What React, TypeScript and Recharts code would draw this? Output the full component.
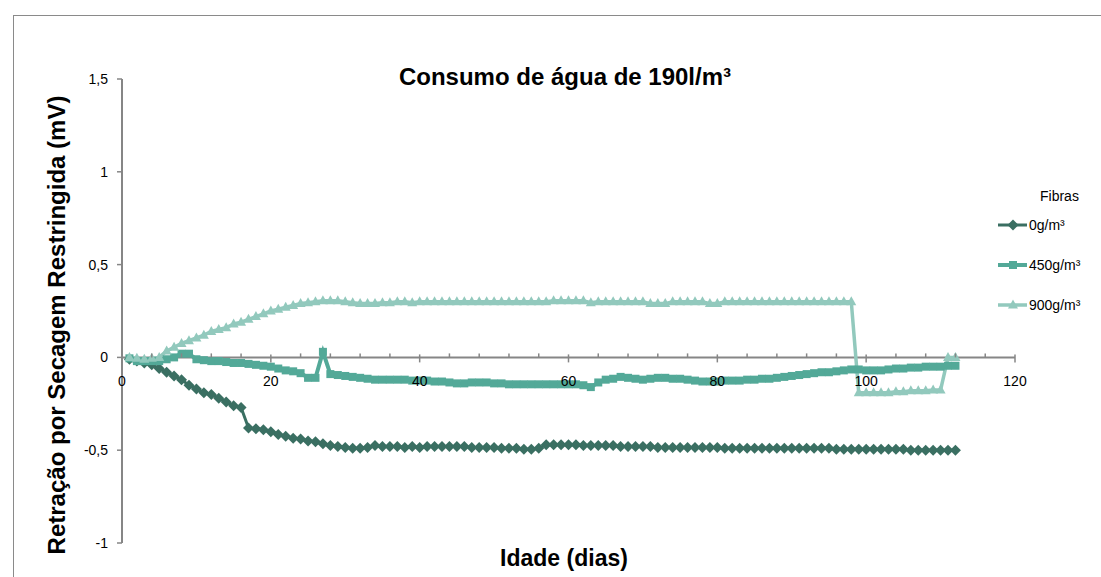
import React from 'react';
import { LineChart, Line, XAxis, YAxis, ReferenceLine } from 'recharts';

// Idade (dias) 1..112
const days = Array.from({ length: 112 }, (_, i) => i + 1);

const fibra0 = [
  -0.01, -0.02, -0.03, -0.04, -0.06, -0.08, -0.1, -0.12, -0.15, -0.17,
  -0.19, -0.2, -0.22, -0.24, -0.26, -0.27, -0.38, -0.385, -0.39, -0.4,
  -0.415, -0.425, -0.435, -0.44, -0.45, -0.455, -0.465, -0.475, -0.48, -0.485,
  -0.49, -0.49, -0.485, -0.475, -0.48, -0.48, -0.48, -0.485, -0.48, -0.485,
  -0.48, -0.48, -0.48, -0.48, -0.48, -0.48, -0.485, -0.485, -0.485, -0.485,
  -0.49, -0.49, -0.49, -0.495, -0.495, -0.49, -0.47, -0.47, -0.47, -0.47,
  -0.47, -0.475, -0.475, -0.475, -0.475, -0.475, -0.48, -0.48, -0.48, -0.48,
  -0.48, -0.485, -0.485, -0.485, -0.485, -0.485, -0.485, -0.485, -0.485, -0.485,
  -0.49, -0.49, -0.49, -0.49, -0.49, -0.49, -0.49, -0.49, -0.49, -0.49,
  -0.49, -0.49, -0.49, -0.49, -0.49, -0.495, -0.495, -0.495, -0.495, -0.495,
  -0.495, -0.495, -0.495, -0.495, -0.495, -0.5, -0.5, -0.5, -0.5, -0.5,
  -0.5, -0.5,
];

const fibra450 = [
  -0.005, -0.02, -0.02, -0.02, -0.02, -0.01, 0.0, 0.02, 0.02, -0.01,
  -0.015, -0.02, -0.02, -0.025, -0.03, -0.03, -0.035, -0.04, -0.045, -0.05,
  -0.06, -0.07, -0.075, -0.085, -0.11, -0.11, 0.03, -0.09, -0.095, -0.1,
  -0.105, -0.11, -0.115, -0.12, -0.12, -0.12, -0.12, -0.12, -0.125, -0.125,
  -0.125, -0.13, -0.13, -0.135, -0.14, -0.14, -0.135, -0.135, -0.135, -0.14,
  -0.14, -0.145, -0.145, -0.145, -0.145, -0.145, -0.145, -0.145, -0.145, -0.145,
  -0.145, -0.15, -0.16, -0.135, -0.12, -0.115, -0.105, -0.11, -0.115, -0.12,
  -0.115, -0.11, -0.11, -0.115, -0.115, -0.12, -0.125, -0.13, -0.13, -0.13,
  -0.125, -0.125, -0.125, -0.12, -0.12, -0.115, -0.115, -0.11, -0.105, -0.1,
  -0.095, -0.09, -0.085, -0.08, -0.08, -0.075, -0.07, -0.065, -0.065, -0.07,
  -0.07, -0.07, -0.065, -0.06, -0.06, -0.055, -0.055, -0.05, -0.05, -0.05,
  -0.045, -0.045,
];

const fibra900 = [
  0.0, -0.005, -0.01, -0.005, 0.0, 0.035, 0.055, 0.075, 0.09, 0.105,
  0.12, 0.14, 0.15, 0.16, 0.18, 0.19, 0.205, 0.22, 0.235, 0.25,
  0.26, 0.27, 0.28, 0.29, 0.295, 0.3, 0.305, 0.305, 0.305, 0.3,
  0.295, 0.29, 0.29, 0.29, 0.295, 0.295, 0.3, 0.3, 0.295, 0.3,
  0.3, 0.3, 0.3, 0.3, 0.3, 0.3, 0.3, 0.3, 0.3, 0.3,
  0.3, 0.3, 0.3, 0.3, 0.3, 0.3, 0.3, 0.305, 0.305, 0.305,
  0.305, 0.305, 0.295, 0.3, 0.3, 0.3, 0.3, 0.3, 0.3, 0.3,
  0.29, 0.29, 0.29, 0.3, 0.3, 0.3, 0.3, 0.3, 0.29, 0.29,
  0.3, 0.3, 0.3, 0.3, 0.3, 0.3, 0.3, 0.3, 0.3, 0.3,
  0.3, 0.3, 0.3, 0.3, 0.3, 0.3, 0.3, 0.3, -0.19, -0.19,
  -0.19, -0.19, -0.19, -0.185, -0.185, -0.18, -0.18, -0.18, -0.175, -0.175,
  0.0, 0.0,
];

const yTicks = [-1, -0.5, 0, 0.5, 1, 1.5];
const xTicks = Array.from({ length: 31 }, (_, i) => i * 4);

const data = days.map((d, i) => ({
  day: d,
  f0: fibra0[i],
  f450: fibra450[i],
  f900: fibra900[i],
}));

const FONT = '"Liberation Sans", Arial, sans-serif';
const AXIS = '#868686';
const C0 = '#3a6f62';
const C450 = '#53a998';
const C900 = '#92c9bd';

const W = 1101;
const H = 577;
const TOP = 79;
const PLOT_H = 464;
const ZERO_Y = TOP + PLOT_H * 0.6;

const Diamond = ({ cx, cy, fill }: any) => {
  if (cx == null || cy == null) return null;
  return <polygon points={`${cx},${cy - 5.5} ${cx + 5.5},${cy} ${cx},${cy + 5.5} ${cx - 5.5},${cy}`} fill={fill} />;
};

const Square = ({ cx, cy, fill }: any) => {
  if (cx == null || cy == null) return null;
  return <rect x={cx - 4} y={cy - 4} width={8} height={8} fill={fill} />;
};

const Triangle = ({ cx, cy, fill }: any) => {
  if (cx == null || cy == null) return null;
  return <polygon points={`${cx},${cy - 5.5} ${cx + 5},${cy + 3.5} ${cx - 5},${cy + 3.5}`} fill={fill} />;
};

const series = [
  { key: 'f0', name: '0g/m³', color: C0, Shape: Diamond, width: 3 },
  { key: 'f450', name: '450g/m³', color: C450, Shape: Square, width: 4 },
  { key: 'f900', name: '900g/m³', color: C900, Shape: Triangle, width: 3.5 },
];

// x axis crosses at y = 0, so ticks are drawn on the zero line
const XTick = (props: any) => {
  const { x, payload } = props;
  const v = payload.value;
  const major = v % 20 === 0;
  return (
    <g>
      {major ? (
        <line x1={x} x2={x} y1={ZERO_Y - 3} y2={ZERO_Y + 5} stroke={AXIS} strokeWidth={1.5} />
      ) : (
        <line x1={x} x2={x} y1={ZERO_Y - 4} y2={ZERO_Y} stroke={AXIS} strokeWidth={1.5} />
      )}
      {major && (
        <text x={x} y={ZERO_Y + 29} textAnchor="middle" fontSize={14} fill="#000" fontFamily={FONT}>
          {v}
        </text>
      )}
    </g>
  );
};

const LegendBox = () => (
  <div style={{ position: 'absolute', left: 998, top: 187, width: 103, fontFamily: FONT, fontSize: 14, color: '#000' }}>
    <div style={{ marginLeft: 42, height: 18, lineHeight: '18px' }}>Fibras</div>
    {series.map((s, i) => (
      <div key={s.key} style={{ display: 'flex', alignItems: 'center', height: 20, marginTop: i === 0 ? 10 : 20 }}>
        <svg width={30} height={12}>
          <line x1={0} x2={29} y1={6} y2={6} stroke={s.color} strokeWidth={s.width} />
          <s.Shape cx={15} cy={6} fill={s.color} />
        </svg>
        <span style={{ marginLeft: 1 }}>{s.name}</span>
      </div>
    ))}
  </div>
);

export default function App() {
  return (
    <div style={{ position: 'absolute', left: 0, top: 0, width: W, height: H, background: '#fff', overflow: 'hidden' }}>
      <div
        style={{
          position: 'absolute',
          left: 13,
          top: 15,
          width: W,
          height: H,
          borderTop: '1px solid #8a8a8a',
          borderLeft: '1px solid #8a8a8a',
        }}
      />
      <LineChart
        width={W}
        height={H}
        data={data}
        margin={{ top: TOP, right: 86, bottom: 4, left: 0 }}
        style={{ position: 'absolute', left: 0, top: 0 }}
      >
        <XAxis
          dataKey="day"
          type="number"
          domain={[0, 120]}
          ticks={xTicks}
          interval={0}
          axisLine={false}
          tickLine={false}
          height={30}
          tick={<XTick />}
        />
        <YAxis
          type="number"
          domain={[-1, 1.5]}
          ticks={yTicks}
          interval={0}
          width={122}
          axisLine={{ stroke: AXIS, strokeWidth: 2 }}
          tickLine={{ stroke: AXIS, strokeWidth: 1.5 }}
          tickSize={5}
          tickMargin={9}
          tick={{ fontSize: 14, fill: '#000', fontFamily: FONT }}
          tickFormatter={(v: number) => String(v).replace('.', ',')}
        />
        <ReferenceLine y={0} stroke={AXIS} strokeWidth={2} />
        {series.map((s) => (
          <Line
            key={s.key}
            dataKey={s.key}
            name={s.name}
            type="linear"
            stroke={s.color}
            strokeWidth={s.width}
            dot={(p: any) => <s.Shape key={`${s.key}-${p.index}`} cx={p.cx} cy={p.cy} fill={s.color} />}
            activeDot={false}
            isAnimationActive={false}
          />
        ))}
      </LineChart>
      <LegendBox />
      <div
        style={{
          position: 'absolute',
          left: 265,
          width: 600,
          top: 65,
          textAlign: 'center',
          fontFamily: FONT,
          fontWeight: 'bold',
          fontSize: 24,
          lineHeight: '24px',
        }}
      >
        Consumo de água de 190l/m³
      </div>
      <div
        style={{
          position: 'absolute',
          left: 264,
          width: 600,
          top: 547,
          textAlign: 'center',
          fontFamily: FONT,
          fontWeight: 'bold',
          fontSize: 23,
          lineHeight: '23px',
        }}
      >
        Idade (dias)
      </div>
      <div
        style={{
          position: 'absolute',
          left: 57 - 300,
          top: 325 - 12,
          width: 600,
          textAlign: 'center',
          fontFamily: FONT,
          fontWeight: 'bold',
          fontSize: 24,
          lineHeight: '24px',
          transform: 'rotate(-90deg)',
        }}
      >
        Retração por Secagem Restringida (mV)
      </div>
    </div>
  );
}
